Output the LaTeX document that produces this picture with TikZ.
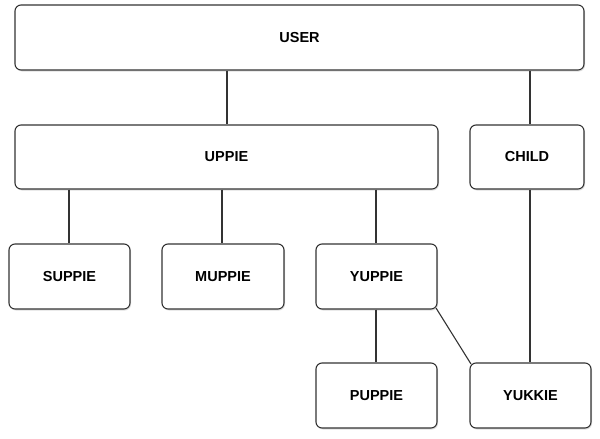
\documentclass[tikz,border=0pt]{standalone}
\usepackage{fontspec}
\setmainfont{Liberation Sans}
\usetikzlibrary{shadows}
\begin{document}
\begin{tikzpicture}[x=1pt,y=-1pt,
  box/.style={draw=black!80, line width=1.1pt, rounded corners=6pt, fill=white,
    drop shadow={shadow xshift=1pt, shadow yshift=-1.5pt, opacity=0.25},
    inner sep=0pt, font=\bfseries\fontsize{14.5}{16}\selectfont},
  link/.style={draw=black!80, line width=1.1pt}]
\useasboundingbox (0,0) rectangle (600,439);
\node[box, minimum width=569pt, minimum height=65pt] (user) at (299.5,37.5) {USER};
\node[box, minimum width=423pt, minimum height=64pt] (uppie) at (226.5,157) {UPPIE};
\node[box, minimum width=114pt, minimum height=64pt] (child) at (527,157) {CHILD};
\node[box, minimum width=121pt, minimum height=65pt] (suppie) at (69.5,276.5) {SUPPIE};
\node[box, minimum width=122pt, minimum height=65pt] (muppie) at (223,276.5) {MUPPIE};
\node[box, minimum width=121pt, minimum height=65pt] (yuppie) at (376.5,276.5) {YUPPIE};
\node[box, minimum width=121pt, minimum height=65pt] (puppie) at (376.5,395.5) {PUPPIE};
\node[box, minimum width=121pt, minimum height=65pt] (yukkie) at (530.5,395.5) {YUKKIE};
\draw[link] (user.south -| 227,0) -- (uppie.north -| 227,0);
\draw[link] (user.south -| 530,0) -- (child.north -| 530,0);
\draw[link] (uppie.south -| 69,0) -- (suppie.north -| 69,0);
\draw[link] (uppie.south -| 222,0) -- (muppie.north -| 222,0);
\draw[link] (uppie.south -| 376,0) -- (yuppie.north -| 376,0);
\draw[link] (yuppie.south -| 376,0) -- (puppie.north -| 376,0);
\draw[link] (child.south -| 530,0) -- (yukkie.north -| 530,0);
\draw[link] ([shift={(-1.5,-1.5)}]yuppie.south east) -- ([shift={(1.5,1.5)}]yukkie.north west);
\end{tikzpicture}
\end{document}
